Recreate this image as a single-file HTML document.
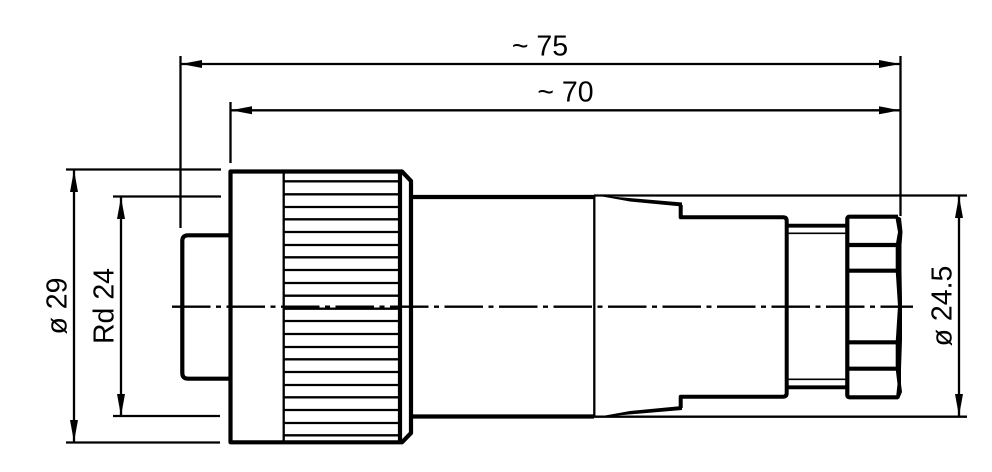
<!DOCTYPE html>
<html><head><meta charset="utf-8"><style>html,body{margin:0;padding:0;background:#fff}svg{display:block}text{font-family:"Liberation Sans",sans-serif;font-size:28.5px;fill:#000}</style></head><body>
<svg width="992" height="472" viewBox="0 0 992 472" xmlns="http://www.w3.org/2000/svg">
<g fill="none" stroke="#000" stroke-width="2.3">
<!-- extension lines -->
<path d="M180.5 56V228M230.5 102V163M900.5 56V216"/>
<path d="M66 169.5H221M113 196.5H221M113 416H220M66 442.5H220"/>
<path d="M594 195.5H967M594 416.7H967M594.3 195V417"/>
<!-- dimension lines -->
<path d="M180 64H900M230 110.3H900M74 170V442M121 197V416M959 196V416"/>
<!-- knurl -->
<path d="M283.7 172V441"/>
<path d="M284 181.3H400M284 194.3H400M284 207H400M284 219.3H400M284 232H400M284 245H400M284 257.3H400M284 270H400M284 283H400M284 295.7H400M284 308.7H400M284 321H400M284 334H400M284 347H400M284 359.3H400M284 372H400M284 385H400M284 397.3H400M284 410H400M284 423H400M284 435.3H400"/>
<!-- neck thin -->
<path d="M787 233.3H847M787 379.3H847" stroke-width="1.7"/>
<path d="M787 225.7H847M787 387.3H847" stroke-width="3.8"/>
<!-- centre line -->
<path d="M172 306.7H913" stroke-dasharray="38.5 5.5 5 5.5"/>
</g>
<g fill="none" stroke="#000" stroke-width="4.2" stroke-linejoin="round">
<!-- cap -->
<path d="M230 235.3H188Q182.3 235.3 182.3 241V373Q182.3 378.7 188 378.7H230"/>
<!-- nut body -->
<path d="M230.5 171.5H402L411 181V433L402 442.3H230.5Z"/>
<path d="M400 172V442"/>
<!-- shank -->
<path d="M411 197H594M411 416.5H594"/>
<path d="M680.7 205V217.3H783Q786.7 217.3 786.7 221V393Q786.7 396.7 783 396.7H680.7V408" stroke-width="4"/>
<!-- hex nut -->
<path d="M898 216.7H849.5Q847.3 216.7 847.3 219V395Q847.3 397.3 849.5 397.3H898"/>
<path d="M848 245H897M848 270.7H897M848 342.3H897M848 368.7H897"/>
</g>
<!-- tapers -->
<path d="M594 195L682 202.5V206.5L630 201.5Z" fill="#000"/>
<path d="M594 417.5L682 410V406L630 411Z" fill="#000"/>
<!-- hex nut right edge -->
<path d="M897 216L901 218L902.5 232L901.5 245V271L902 300V340L901 369V384L902 392L899 399L896 398L897.5 384L895.7 369V342L898 306L895.7 271V245L898 232L895.7 219Z" fill="#000"/>
<!-- arrowheads -->
<g fill="#000">
<path d="M181 64L202 60V68Z"/>
<path d="M231 110.3L252 106.3V114.3Z"/>
<path d="M900 64L879 60V68Z"/>
<path d="M900 110.3L879 106.3V114.3Z"/>
<path d="M74 170L70 192H78Z"/>
<path d="M74 442L70 420H78Z"/>
<path d="M121 197L117 219H125Z"/>
<path d="M121 416L117 394H125Z"/>
<path d="M959 196L955 218H963Z"/>
<path d="M959 416L955 394H963Z"/>
</g>
<text x="540" y="55.5" text-anchor="middle">~ 75</text>
<text x="565.5" y="101.5" text-anchor="middle">~ 70</text>
<text transform="translate(66.5 306) rotate(-90)" text-anchor="middle">ø 29</text>
<text transform="translate(113.5 306) rotate(-90)" text-anchor="middle">Rd 24</text>
<text transform="translate(951.5 306) rotate(-90)" text-anchor="middle">ø 24.5</text>
</svg>
</body></html>
